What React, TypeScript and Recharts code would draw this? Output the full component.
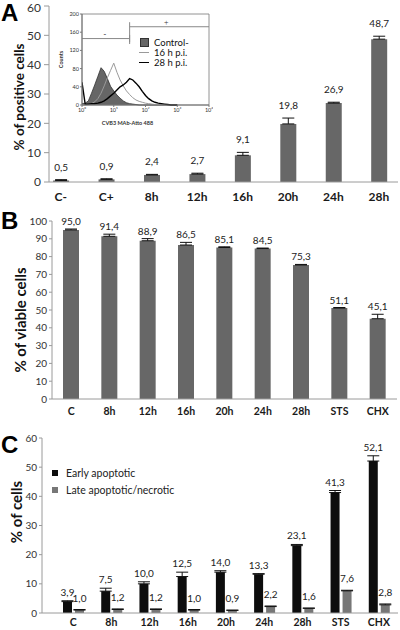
import React from 'react';
import {
  BarChart, Bar, XAxis, YAxis, ErrorBar, LabelList, Legend,
  ComposedChart, Area, Line, ReferenceLine, ReferenceArea, ReferenceDot,
} from 'recharts';

// panel A: % of positive cells
const catsA = ['C-', 'C+', '8h', '12h', '16h', '20h', '24h', '28h'];
const positiveA = [0.5, 0.9, 2.4, 2.7, 9.1, 19.8, 26.9, 48.7];
const errA = [0.3, 0.2, 0.2, 0.3, 1.0, 2.0, 0.3, 1.0];
const ticksA = [0, 10, 20, 30, 40, 50, 60];

// panel B: % of viable cells
const catsB = ['C', '8h', '12h', '16h', '20h', '24h', '28h', 'STS', 'CHX'];
const viableB = [95.0, 91.4, 88.9, 86.5, 85.1, 84.5, 75.3, 51.1, 45.1];
const errB = [0.5, 1.2, 1.2, 1.5, 0.4, 0.3, 0.3, 0.3, 2.5];
const ticksB = [0, 10, 20, 30, 40, 50, 60, 70, 80, 90, 100];

// panel C: % of cells
const catsC = ['C', '8h', '12h', '16h', '20h', '24h', '28h', 'STS', 'CHX'];
const earlyC = [3.9, 7.5, 10.0, 12.5, 14.0, 13.3, 23.1, 41.3, 52.1];
const errEarlyC = [0.3, 1.0, 0.7, 1.5, 0.5, 0.2, 0.4, 0.7, 1.8];
const lateC = [1.0, 1.2, 1.2, 1.0, 0.9, 2.2, 1.6, 7.6, 2.8];
const errLateC = [0.2, 0.2, 0.2, 0.2, 0.1, 0.2, 0.1, 0.2, 0.3];
const ticksC = [0, 10, 20, 30, 40, 50, 60];

// inset histogram (log10 fluorescence)
const logFluor = [0, 0.1, 0.2, 0.3, 0.4, 0.5, 0.6, 0.7, 0.8, 0.9, 1.0, 1.1, 1.2, 1.3, 1.4, 1.5,
  1.6, 1.7, 1.8, 1.9, 2.0, 2.1, 2.2, 2.3, 2.4, 2.5, 2.6, 2.7, 2.8, 2.9, 3.0];
const countsControl = [3, 4, 9, 26, 44, 63, 82, 74, 58, 41, 31, 22, 15, 9, 5, 3,
  2, 1, 0, 0, 0, 0, 0, 0, 0, 0, 0, 0, 0, 0, 0];
const counts16h = [0, 0, 1, 3, 7, 14, 26, 42, 60, 76, 92, 72, 55, 42, 31, 23,
  16, 11, 8, 6, 4, 3, 2, 1, 1, 0, 0, 0, 0, 0, 0];
const counts28h = [50, 2, 2, 3, 3, 4, 6, 9, 14, 20, 26, 33, 40, 44, 50, 58,
  55, 48, 40, 30, 21, 14, 9, 6, 4, 3, 2, 1, 0, 0, 0];
const decadeTicks = [0, 1, 2, 3, 4];
const countTicks = [0, 40, 80, 120, 160, 200];
const supDigits = ['\u2070', '\u00b9', '\u00b2', '\u00b3', '\u2074'];
const gateX = [0, 1.5, 4];
const gateLevels = [146, 172];

const dataA = catsA.map((name, i) => ({ pos: i, name, value: positiveA[i], err: [0, errA[i]] }));
const dataB = catsB.map((name, i) => ({ name, value: viableB[i], err: [0, errB[i]] }));
const dataC = catsC.map((name, i) => ({
  name, early: earlyC[i], late: lateC[i], errEarly: [0, errEarlyC[i]], errLate: [0, errLateC[i]],
}));
const histData = logFluor.map((x, i) => ({ x, control: countsControl[i], h16: counts16h[i], h28: counts28h[i] }));

const FONT = 'Lato, "Open Sans", sans-serif';
const AXIS = '#9a9a9a';
const fmt = (v: number) => v.toFixed(1).replace('.', ',');
const keepOrder = () => 0;

const valueLabel = (errs: number[], gap: number) => (props: any) => {
  const { x, y, width, height, value, index } = props;
  const v = Number(value);
  const perUnit = v ? Number(height) / v : 0;
  const e = errs[index] ?? 0;
  return (
    <text x={Number(x) + Number(width) / 2} y={Number(y) - e * perUnit - gap}
      textAnchor="middle" fontSize={10} fill="#222" fontFamily={FONT}>
      {fmt(v)}
    </text>
  );
};

const catTick = (size: number) => ({ fontSize: size, fontWeight: 700, fill: '#1a1a1a', fontFamily: FONT });
const numTick = (size: number) => ({ fontSize: size, fill: '#333', fontFamily: FONT });

function InsetLegend({ payload }: any) {
  return (
    <div style={{ fontFamily: FONT, fontSize: 9.5, color: '#111', whiteSpace: 'nowrap', width: 'max-content' }}>
      {(payload || []).map((p: any) => (
        <div key={p.value} style={{ display: 'flex', alignItems: 'center', height: 10 }}>
          {p.type === 'square'
            ? <span style={{ flexShrink: 0, width: 7, height: 7, background: '#666', border: '1px solid #333', marginRight: 5, marginLeft: 1 }} />
            : <span style={{ flexShrink: 0, width: 10, height: 0, borderTop: `1.5px solid ${p.color}`, marginRight: 5 }} />}
          {p.value}
        </div>
      ))}
    </div>
  );
}

function CLegend({ payload }: any) {
  return (
    <div style={{ fontFamily: FONT, fontSize: 10.5, color: '#222', whiteSpace: 'nowrap', width: 'max-content' }}>
      {(payload || []).map((p: any) => (
        <div key={p.value} style={{ display: 'flex', alignItems: 'center', height: 17.5 }}>
          <span style={{ flexShrink: 0, width: 6, height: 6, background: p.color, marginRight: 8 }} />
          {p.value}
        </div>
      ))}
    </div>
  );
}

export default function App() {
  return (
    <div style={{ position: 'absolute', left: 0, top: 0, width: 400, height: 630, background: '#fff', overflow: 'hidden' }}>
      {/* A */}
      <div style={{ position: 'absolute', left: 0, top: 0 }}>
        <BarChart width={400} height={205} data={dataA} margin={{ top: 6, right: 2, left: 0, bottom: 0 }}>
          <XAxis type="number" dataKey="pos" domain={[-0.26, 7.42]} ticks={[0, 1, 2, 3, 4, 5, 6, 7]}
            tickFormatter={(v: number) => catsA[v]} interval={0} allowDataOverflow
            height={23} stroke={AXIS} tickLine={false} tickSize={0} tickMargin={10} tick={catTick(12)} />
          <YAxis domain={[0, 60]} ticks={ticksA} width={49} stroke={AXIS} tickSize={5} tickMargin={3} tick={numTick(12)} />
          <Bar dataKey="value" fill="#676767" barSize={16} isAnimationActive={false}>
            <ErrorBar dataKey="err" direction="y" width={6} stroke="#111" strokeWidth={1} />
            <LabelList dataKey="value" content={valueLabel(errA, 9)} />
          </Bar>
        </BarChart>
      </div>

      {/* A inset */}
      <div style={{ position: 'absolute', left: 58, top: 8 }}>
        <ComposedChart width={155} height={122} data={histData} margin={{ top: 6, right: 4, left: 0, bottom: 0 }}>
          <XAxis type="number" dataKey="x" domain={[0, 4]} ticks={decadeTicks} allowDataOverflow
            tickFormatter={(v: number) => '10' + supDigits[v]} height={25} stroke="#777" tickSize={2} tickMargin={1}
            tick={{ fontSize: 5.5, fill: '#333', fontFamily: FONT }}
            label={{ value: 'CVB3 MAb-Atto 488', position: 'insideBottom', offset: 5, dx: -18, fontSize: 5.5, fontWeight: 700, fill: '#333', fontFamily: FONT }} />
          <YAxis domain={[0, 200]} ticks={countTicks} width={24} stroke="#777" tickSize={2} tickMargin={1}
            tick={{ fontSize: 5.5, fill: '#333', fontFamily: FONT }}
            label={{ value: 'Counts', angle: -90, position: 'insideLeft', offset: 3, fontSize: 5.5, fontWeight: 700, fill: '#333', fontFamily: FONT, style: { textAnchor: 'middle' } }} />
          <ReferenceArea x1={0} x2={4} y1={0} y2={200} fill="none" stroke="#777" strokeWidth={0.8} />
          <Area type="linear" dataKey="control" name="Control-" fill="#666" fillOpacity={1} stroke="#333"
            strokeWidth={0.8} legendType="square" isAnimationActive={false} />
          <Line type="linear" dataKey="h16" name="16 h p.i." stroke="#9a9a9a" strokeWidth={1} dot={false}
            legendType="plainline" isAnimationActive={false} />
          <Line type="linear" dataKey="h28" name="28 h p.i." stroke="#000" strokeWidth={1.4} dot={false}
            legendType="plainline" isAnimationActive={false} />
          <ReferenceLine segment={[{ x: gateX[0], y: gateLevels[0] }, { x: gateX[1], y: gateLevels[0] }]} stroke="#888" />
          <ReferenceLine segment={[{ x: gateX[1], y: gateLevels[0] - 8 }, { x: gateX[1], y: gateLevels[0] + 8 }]} stroke="#888" />
          <ReferenceLine segment={[{ x: gateX[1], y: gateLevels[1] }, { x: gateX[2], y: gateLevels[1] }]} stroke="#888" />
          <ReferenceLine segment={[{ x: gateX[1], y: gateLevels[0] - 12 }, { x: gateX[1], y: gateLevels[1] + 10 }]} stroke="#888" />
          <ReferenceDot x={0.72} y={156} r={0} stroke="none" label={{ value: '-', fontSize: 8, fill: '#333' }} />
          <ReferenceDot x={2.65} y={181} r={0} stroke="none" label={{ value: '+', fontSize: 8, fill: '#333' }} />
          <Legend layout="vertical" verticalAlign="top" align="left" content={<InsetLegend />} itemSorter={keepOrder}
            wrapperStyle={{ left: 81, top: 29, width: 0, height: 0, overflow: 'visible' }} />
        </ComposedChart>
      </div>

      {/* B */}
      <div style={{ position: 'absolute', left: 0, top: 205 }}>
        <BarChart width={400} height={215} data={dataB} margin={{ top: 16, right: 3, left: 0, bottom: 0 }}>
          <XAxis dataKey="name" interval={0} height={21} stroke={AXIS} tickLine={false} tickSize={0} tickMargin={9} tick={catTick(10.5)} />
          <YAxis domain={[0, 100]} ticks={ticksB} width={52} stroke={AXIS} tickSize={3} tickMargin={2} tick={numTick(10)} />
          <Bar dataKey="value" fill="#676767" barSize={16} isAnimationActive={false}>
            <ErrorBar dataKey="err" direction="y" width={6} stroke="#111" strokeWidth={1} />
            <LabelList dataKey="value" content={valueLabel(errB, 4)} />
          </Bar>
        </BarChart>
      </div>

      {/* C */}
      <div style={{ position: 'absolute', left: 0, top: 420 }}>
        <BarChart width={400} height={210} data={dataC} margin={{ top: 18, right: 2, left: 0, bottom: 0 }} barGap={3}>
          <XAxis dataKey="name" interval={0} height={17} padding={{ left: 12 }} stroke={AXIS} tickLine={false} tickSize={0} tickMargin={6} tick={catTick(10.5)} />
          <YAxis domain={[0, 60]} ticks={ticksC} width={42} stroke={AXIS} tickSize={3} tickMargin={2} tick={numTick(10)} />
          <Bar dataKey="early" name="Early apoptotic" fill="#0d0d0d" barSize={9} isAnimationActive={false}>
            <ErrorBar dataKey="errEarly" direction="y" width={6} stroke="#111" strokeWidth={1} />
            <LabelList dataKey="early" content={valueLabel(errEarlyC, 5)} />
          </Bar>
          <Bar dataKey="late" name="Late apoptotic/necrotic" fill="#777" barSize={9} isAnimationActive={false}>
            <ErrorBar dataKey="errLate" direction="y" width={6} stroke="#111" strokeWidth={1} />
            <LabelList dataKey="late" content={valueLabel(errLateC, 8)} />
          </Bar>
          <Legend layout="vertical" verticalAlign="top" align="left" content={<CLegend />} itemSorter={keepOrder}
            wrapperStyle={{ left: 52, top: 44, width: 0, height: 0, overflow: 'visible' }} />
        </BarChart>
      </div>

      {/* panel letters and axis titles */}
      <svg width={400} height={630} style={{ position: 'absolute', left: 0, top: 0, pointerEvents: 'none' }}>
        <g fontFamily='"Liberation Sans", Arial, sans-serif' fontWeight={700} fontSize={24} fill="#000">
          <text x={1} y={21}>A</text>
          <text x={1} y={229}>B</text>
          <text x={1} y={453}>C</text>
        </g>
        <g fontFamily={FONT} fontWeight={700} fill="#111" textAnchor="middle" dominantBaseline="central">
          <text fontSize={13.5} transform="translate(19,97) rotate(-90)">% of positive cells</text>
          <text fontSize={15} transform="translate(20,320) rotate(-90)">% of viable cells</text>
          <text fontSize={15} transform="translate(16,512) rotate(-90)">% of cells</text>
        </g>
      </svg>
    </div>
  );
}
